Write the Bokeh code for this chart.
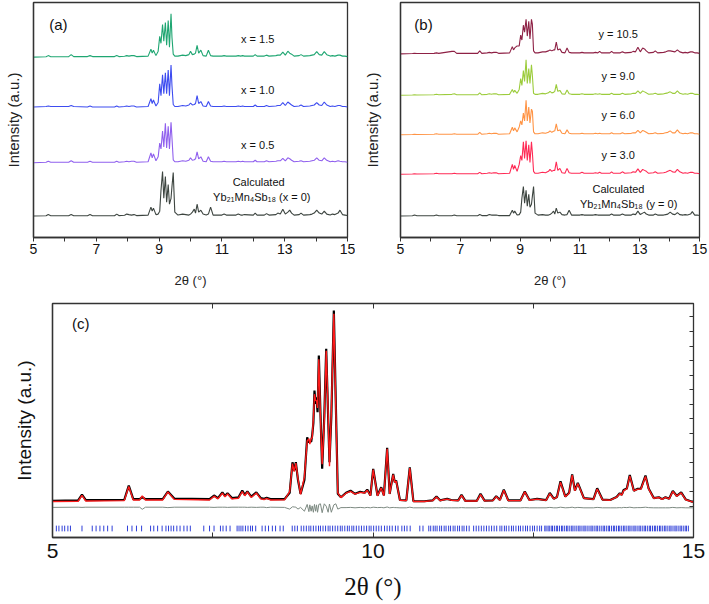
from bokeh.plotting import figure
from bokeh.models import Range1d, FixedTicker, LinearAxis, Label
from bokeh.layouts import column, row
from bokeh.embed import file_html
from bokeh.resources import INLINE

# ---------------- panels (a) and (b): shared 2-theta grid ----------------
tth_ab = [5.00, 5.40, 5.47, 5.55, 6.12, 6.20, 6.28, 6.72, 6.80, 6.88,
          7.58, 7.65, 7.72, 7.90, 7.97, 8.04, 8.12, 8.20, 8.28, 8.65,
          8.74, 8.78, 8.82, 8.90, 8.97, 9.02, 9.06, 9.11, 9.15, 9.20,
          9.24, 9.29, 9.33, 9.38, 9.41, 9.45, 9.50, 9.60, 9.75, 9.85,
          9.95, 10.00, 10.06, 10.12, 10.16, 10.21, 10.26, 10.33, 10.40, 10.50,
          10.57, 10.64, 10.72, 11.00, 11.07, 11.14, 11.45, 11.52, 11.60, 11.66,
          11.72, 12.00, 12.06, 12.12, 12.35, 12.42, 12.50, 12.72, 12.78, 12.86,
          12.94, 13.02, 13.10, 13.16, 13.22, 13.30, 13.46, 13.52, 13.60, 13.80,
          13.87, 13.94, 14.02, 14.10, 14.18, 14.26, 14.34, 14.45, 14.52, 14.60,
          14.70, 14.76, 14.84, 14.92, 15.00]

int_calc_a = [0, 0.3, 1.5, 0.3, 0.3, 1.5, 0.3, 0.3, 1.5, 0.3,
              0.3, 2, 0.5, 0.8, 2, 1.5, 1, 1.5, 0.5, 1,
              9, 5, 8, 1.5, 2, 5, 26, 45, 18, 40,
              14, 32, 12, 18, 30, 44, 4, 1, 2, 1.5,
              1, 2, 4, 7, 3, 12, 4, 6, 2, 1,
              2, 9, 1, 1, 2, 1, 1, 2, 1, 1,
              1.5, 1, 3, 1, 1, 2.5, 1, 1.5, 3, 2,
              7, 2, 4, 6, 3, 1, 1.5, 3, 1, 1.5,
              2, 3, 6, 3, 2, 5, 2, 1, 2, 1.5,
              3, 6, 1.5, 1, 0.5]
int_x05 = [0, 0.5, 1.5, 0.5, 0.5, 2, 0.5, 0.5, 1.5, 0.5,
           0.5, 1.5, 0.5, 1, 1.5, 1, 1.5, 1.5, 0.5, 1,
           10, 5, 9, 2, 6, 20, 14, 32, 16, 40,
           15, 37, 14, 41, 25, 3, 1, 1, 2, 1.5,
           2.5, 5, 2.5, 3, 4, 11, 4, 6, 1.5, 1,
           6, 1.5, 1, 1, 1.5, 1, 1, 1.5, 1, 1.5,
           1, 1, 2.5, 1, 1, 2, 1, 1.5, 2, 2,
           4.5, 2, 5, 4, 2.5, 1, 1.5, 2, 1, 1.5,
           2, 2.5, 5, 2.5, 2, 5, 2.5, 1, 1.5, 1,
           2, 1.5, 1, 1, 0.5]
int_x10 = [0.5, 1, 1.5, 1, 1, 2, 1, 0.5, 1.5, 0.5,
           0.5, 1.5, 0.5, 1, 1.5, 1, 1.5, 1.5, 0.5, 1,
           9, 4, 7.5, 1.5, 5, 24, 12, 33, 14, 35,
           14, 38, 12, 43, 22, 3, 1, 1, 2, 1.5,
           2.5, 4.5, 2.5, 3, 4, 12, 4, 6, 1.5, 1,
           6, 1.5, 1, 1, 1.5, 1, 1, 1.5, 1, 1.5,
           1, 1, 2.5, 1, 1, 2, 1, 1.5, 2, 2,
           5, 2, 5.5, 4, 2.5, 1, 1.5, 2.5, 1, 1.5,
           2, 2.5, 5, 2.5, 2, 5.5, 2.5, 1, 1.5, 1,
           2, 2, 1, 1, 0.5]
int_x15 = [0, 0.3, 1.5, 0.3, 0.5, 2.5, 0.5, 0.5, 1.5, 0.5,
           0.5, 1.5, 0.5, 0.8, 1.5, 1, 1.5, 1.5, 0.5, 1,
           8, 4, 7, 1.5, 6, 21, 14, 33, 16, 35,
           12, 37, 10, 44, 20, 3, 1, 1, 2, 1.5,
           2.5, 6, 2.5, 3, 4, 12, 4, 7, 1.5, 1,
           7, 1.5, 1, 1, 1.5, 1, 1, 1.5, 1, 1.5,
           1, 1, 2.5, 1, 1, 2, 1, 1.5, 2, 2,
           5, 2, 6, 4, 3, 1, 1.5, 2.5, 1, 1.5,
           2, 2.5, 5.5, 2.5, 2, 5.5, 2.5, 1, 1.5, 1,
           2, 2, 1, 1, 0.5]

int_calc_b = [0, 0.3, 1, 0.3, 0.3, 1, 0.3, 0.3, 1, 0.3,
              0.3, 1.5, 0.5, 0.5, 1.5, 1, 1, 1, 0.5, 0.5,
              6, 3, 5, 1, 1.5, 4, 18, 30, 13, 26,
              10, 22, 9, 12, 20, 30, 3, 1, 1.5, 1,
              1, 1.5, 3, 5, 2, 8, 3, 4, 1.5, 1,
              1.5, 6, 1, 1, 1.5, 1, 1, 1.5, 1, 1,
              1, 1, 2, 1, 1, 2, 1, 1, 2, 1.5,
              5, 1.5, 3, 4, 2, 1, 1, 2, 1, 1,
              1.5, 2, 4, 2, 1.5, 3.5, 1.5, 1, 1.5, 1,
              2, 4.5, 1, 1, 0.5]
int_y30 = [0, 0.3, 0.5, 0.3, 0.5, 1, 0.5, 0.5, 1, 0.5,
           0.5, 2, 0.5, 1, 1.5, 1, 1.5, 1.5, 0.5, 1,
           10, 5, 9, 3, 10, 19, 14, 33, 16, 34,
           14, 30, 12, 33, 22, 3, 1, 1, 2, 1.5,
           3, 5, 3, 4, 4, 12.7, 4, 6, 1.5, 1,
           6, 1.5, 1, 1, 2, 1, 1, 1.5, 1, 2,
           1, 1, 2.5, 1, 1, 2.5, 1, 1.5, 2.5, 2,
           5.5, 2, 5, 4, 3, 1, 1.5, 2.5, 1, 1.5,
           2, 3, 4, 2.5, 2, 5, 2.5, 1, 1.5, 1,
           2, 2, 1, 1, 0.5]
int_y60 = [0, 0.3, 0.5, 0.3, 0.5, 1, 0.5, 0.5, 1, 0.5,
           0.5, 2.5, 0.5, 1, 1.5, 1, 1.5, 1.5, 0.5, 1,
           7.7, 4, 7, 3, 8, 14, 10, 22, 14, 35,
           14, 28, 12, 26, 24, 3, 1, 1, 2, 1.5,
           2.5, 4, 2.5, 3.5, 4, 11, 4, 5, 1.5, 1,
           5, 1.5, 1, 1, 1.5, 1, 1, 1.5, 1, 1.5,
           1, 1, 2, 1, 1, 2, 1, 1.5, 2, 2,
           4.5, 2, 4.5, 3.5, 2.5, 1, 1.5, 2, 1, 1.5,
           2, 2.5, 4, 2, 2, 5, 2, 1, 1.5, 1,
           2, 2, 1, 1, 0.5]
int_y90 = [0, 0.3, 0.5, 0.3, 0.5, 1, 0.5, 1, 1.5, 0.5,
           0.5, 2.5, 0.5, 1, 1.5, 1, 1.5, 1.5, 0.5, 1,
           6, 3, 5, 2, 6, 17, 10, 25, 14, 36,
           12, 27, 12, 31, 20, 2, 1, 1, 2, 1.5,
           2.5, 4, 2.5, 3, 4, 11, 4, 5, 1.5, 1,
           5.3, 1.5, 1, 1, 1.5, 1, 1, 1.5, 1, 1.5,
           1, 1, 2, 1, 1, 2, 1, 1.5, 2, 2,
           4.5, 2, 4.5, 3.5, 2.5, 1, 1.5, 2, 1, 1.5,
           2, 2.5, 3.5, 2, 2, 4.5, 2, 1, 1.5, 1,
           2, 2, 1, 1, 0.5]
int_y105 = [0, 0.3, 0.5, 0.3, 0.5, 1, 0.5, 2.5, 2.5, 0.5,
            0.5, 3, 0.5, 1, 1.5, 1, 1.5, 1.5, 0.5, 1,
            7.3, 4, 6, 8, 8, 19, 14, 29, 22, 35,
            18, 33, 15, 35, 30, 3, 1, 1, 2, 2,
            3, 4, 3, 4, 4, 12, 4, 5, 1.5, 1,
            6, 1.5, 1, 1, 1.5, 1, 1, 1.5, 1, 2.5,
            1, 1, 2.5, 1, 1, 2, 1, 1.5, 2.5, 2,
            6.7, 2, 6, 5, 3, 1, 1.5, 3, 1, 1.5,
            2, 3, 3, 2.5, 2, 4, 2, 1, 1.5, 1,
            2, 2, 1, 1, 0.5]

series_a = [int_calc_a, int_x05, int_x10, int_x15]
offsets_a = [21.7, 75.7, 131.7, 182.7]
labels_a = ["x = 0.5", "x = 1.0", "x = 1.5"]
series_b = [int_calc_b, int_y30, int_y60, int_y90, int_y105]
offsets_b = [21.7, 64, 104, 144, 186]
labels_b = ["y = 3.0", "y = 6.0", "y = 9.0", "y = 10.5"]

# ---------------- panel (c): Rietveld refinement ----------------
tth_c = [5.00, 5.40, 5.46, 5.52, 6.12, 6.19, 6.26, 6.36, 6.40, 6.45,
         6.72, 6.80, 6.90, 7.45, 7.52, 7.58, 7.65, 7.69, 7.73, 7.80,
         7.90, 7.96, 8.00, 8.04, 8.10, 8.18, 8.25, 8.30, 8.34, 8.40,
         8.62, 8.70, 8.744, 8.77, 8.796, 8.83, 8.87, 8.93, 8.973, 9.00,
         9.014, 9.035, 9.051, 9.07, 9.087, 9.105, 9.119, 9.135, 9.155, 9.18,
         9.207, 9.24, 9.27, 9.30, 9.321, 9.35, 9.389, 9.42, 9.451, 9.50,
         9.58, 9.65, 9.72, 9.80, 9.87, 9.91, 9.96, 10.003, 10.07, 10.128,
         10.17, 10.221, 10.26, 10.315, 10.34, 10.361, 10.42, 10.52, 10.574, 10.63,
         10.80, 10.93, 10.99, 11.05, 11.10, 11.157, 11.22, 11.33, 11.381, 11.44,
         11.62, 11.677, 11.74, 11.87, 11.922, 11.98, 12.041, 12.11, 12.30, 12.368,
         12.44, 12.56, 12.70, 12.758, 12.82, 12.87, 12.925, 13.00, 13.06, 13.107,
         13.15, 13.195, 13.29, 13.44, 13.497, 13.58, 13.70, 13.80, 13.85, 13.88,
         13.91, 13.96, 14.006, 14.07, 14.122, 14.18, 14.251, 14.30, 14.38, 14.459,
         14.51, 14.563, 14.62, 14.677, 14.74, 14.808, 14.88, 14.98, 15.00]
obs_c = [102, 104, 131, 105, 107, 174, 110, 110, 119, 110,
         110, 146, 113, 110, 127, 115, 142, 125, 138, 115,
         118, 150, 130, 147, 122, 142, 115, 112, 116, 110,
         110, 140, 284, 245, 284, 200, 135, 200, 402, 378,
         385, 380, 410, 470, 622, 560, 590, 520, 787, 520,
         253, 500, 819, 500, 284, 500, 1000, 560, 135, 119,
         140, 150, 135, 145, 140, 155, 127, 253, 127, 166,
         127, 352, 135, 229, 190, 198, 106, 104, 260, 100,
         100, 104, 122, 104, 108, 111, 106, 104, 130, 102,
         102, 135, 103, 104, 124, 106, 155, 104, 104, 146,
         106, 111, 105, 139, 112, 120, 194, 122, 140, 227,
         150, 187, 115, 110, 161, 108, 106, 120, 138, 130,
         153, 160, 224, 150, 158, 160, 221, 160, 115, 119,
         110, 119, 112, 149, 125, 142, 108, 98, 98]
calc_c = [99, 100, 128, 101, 103, 170, 106, 106, 125, 106,
          106, 144, 109, 106, 124, 111, 138, 121, 135, 111,
          114, 146, 126, 144, 118, 139, 111, 108, 114, 106,
          107, 145, 278, 240, 280, 205, 132, 215, 385, 395,
          370, 395, 400, 490, 605, 575, 575, 540, 770, 500,
          275, 480, 810, 520, 265, 520, 985, 540, 140, 117,
          138, 147, 134, 142, 139, 152, 126, 249, 125, 163,
          126, 347, 134, 226, 188, 196, 105, 103, 256, 99,
          99, 103, 120, 103, 107, 110, 105, 103, 128, 101,
          101, 132, 102, 103, 122, 105, 152, 103, 103, 144,
          105, 110, 104, 136, 111, 119, 190, 121, 138, 223,
          149, 184, 114, 109, 158, 107, 105, 119, 136, 129,
          150, 158, 220, 149, 156, 158, 217, 158, 114, 118,
          109, 118, 111, 146, 124, 140, 107, 97, 97]
diff_offset = 68
refl_c = [5.06, 5.10, 5.15, 5.19, 5.24, 5.28, 5.46, 5.62, 5.68, 5.74, 5.80, 5.86, 5.93,
          6.17, 6.24, 6.31, 6.39, 6.53, 6.58, 6.64, 6.71, 6.77, 6.81, 6.85, 6.89, 6.94,
          6.99, 7.05, 7.10, 7.15, 7.36, 7.45, 7.52, 7.62, 7.66, 7.71, 7.77, 7.88, 7.91,
          7.94, 7.97, 8.01, 8.05, 8.09, 8.12, 8.17, 8.27, 8.32, 8.37, 8.43, 8.48, 8.55,
          8.60, 8.74, 8.78, 8.82, 8.88, 8.92, 8.96, 9.00, 9.03, 9.07, 9.11, 9.15, 9.18,
          9.22, 9.26, 9.30, 9.33, 9.37, 9.41, 9.45, 9.49, 9.52, 9.56, 9.60, 9.63, 9.67,
          9.70, 9.74, 9.78, 9.82, 9.86, 9.90, 9.94, 9.97, 10.01, 10.05, 10.09, 10.13,
          10.18, 10.22, 10.26, 10.30, 10.35, 10.39, 10.45, 10.49, 10.53, 10.58, 10.73,
          10.78, 10.87, 10.90, 10.94, 10.97, 11.00, 11.04, 11.07, 11.11, 11.14, 11.18,
          11.21, 11.25, 11.28, 11.32, 11.35, 11.39, 11.42, 11.46, 11.50, 11.57, 11.61,
          11.65, 11.69, 11.73, 11.77, 11.81, 11.85, 11.89, 11.93, 11.98, 12.01, 12.05,
          12.08, 12.12, 12.16, 12.19, 12.23, 12.27, 12.30, 12.34, 12.38, 12.41, 12.45,
          12.49, 12.52, 12.56, 12.60, 12.63, 12.68, 12.70, 12.73, 12.75, 12.78, 12.80,
          12.83, 12.86, 12.88, 12.91, 12.94, 12.96, 12.99, 13.02, 13.04, 13.07, 13.10,
          13.12, 13.15, 13.18, 13.21, 13.23, 13.26, 13.29, 13.31, 13.34, 13.37, 13.40,
          13.42, 13.45, 13.48, 13.50, 13.53, 13.56, 13.59, 13.61, 13.64, 13.67, 13.69,
          13.72, 13.75, 13.77, 13.80, 13.83, 13.85, 13.88, 13.91, 13.93, 13.96, 13.99,
          14.01, 14.04, 14.07, 14.09, 14.12, 14.15, 14.17, 14.20, 14.23, 14.25, 14.28,
          14.31, 14.33, 14.36, 14.39, 14.41, 14.44, 14.47, 14.49, 14.52, 14.55, 14.57,
          14.60, 14.63, 14.65, 14.68, 14.71, 14.73, 14.76, 14.79, 14.81, 14.84, 14.87,
          14.89, 14.92]

for s in series_a + series_b:
    assert len(s) == len(tth_ab), len(s)
assert len(obs_c) == len(tth_c) == len(calc_c), (len(obs_c), len(tth_c), len(calc_c))

FONT = "Liberation Sans"
AXC = "#333333"


def base_panel(width, left, right, tag, tag_x):
    p = figure(width=width, height=290, x_range=Range1d(5, 15), y_range=Range1d(0, 238),
               output_backend="svg", toolbar_location=None,
               min_border_left=left, min_border_right=right,
               min_border_top=2, min_border_bottom=50)
    p.grid.visible = False
    p.outline_line_color = AXC
    p.outline_line_width = 1.3
    p.background_fill_color = "white"
    p.border_fill_color = "white"
    xa = p.xaxis[0]
    xa.ticker = FixedTicker(ticks=[5, 7, 9, 11, 13, 15], minor_ticks=[6, 8, 10, 12, 14])
    xa.major_tick_out = 4
    xa.major_tick_in = 0
    xa.minor_tick_out = 4
    xa.minor_tick_in = 0
    xa.major_tick_line_color = AXC
    xa.minor_tick_line_color = AXC
    xa.axis_line_color = AXC
    xa.axis_line_width = 1.3
    xa.major_label_text_font = FONT
    xa.major_label_text_font_size = "14px"
    xa.major_label_text_color = "#111111"
    xa.major_label_standoff = 2
    xa.axis_label = "2θ (°)"
    xa.axis_label_text_font = FONT
    xa.axis_label_text_font_style = "normal"
    xa.axis_label_text_font_size = "13px"
    xa.axis_label_text_color = "#222222"
    xa.axis_label_standoff = 16
    ya = p.yaxis[0]
    ya.ticker = FixedTicker(ticks=[])
    ya.axis_line_color = AXC
    ya.axis_line_width = 1.3
    ya.axis_label = "Intensity (a.u.)"
    ya.axis_label_text_font = FONT
    ya.axis_label_text_font_style = "normal"
    ya.axis_label_text_font_size = "15px"
    ya.axis_label_text_color = "#222222"
    ya.axis_label_standoff = 12 if left < 40 else 20
    p.add_layout(Label(x=tag_x, y=216, text=tag, text_font=FONT, text_font_size="15px",
                       text_align="center", text_baseline="middle", text_color="#111111"))
    return p


def add_text(p, x, y, txt, size="11px"):
    p.add_layout(Label(x=x, y=y, text=txt, text_font=FONT, text_font_size=size,
                       text_align="center", text_baseline="middle", text_color="#111111"))


# ---- panel (a)
pa = base_panel(355, 33, 8, "(a)", 5.79)
colors_a = ["#3d4540", "#9060ee", "#3d4cf0", "#1fa672"]
for ys, off, col in zip(series_a, offsets_a, colors_a):
    pa.line(tth_ab, [v + off for v in ys], line_color=col, line_width=1.1)
for lab, off in zip(labels_a, offsets_a[1:]):
    add_text(pa, 12.14, off + 18, lab)
add_text(pa, 12.17, 56, "Calculated")
add_text(pa, 12.27, 41, "Yb₂₁Mn₄Sb₁₈ (x = 0)")

# ---- panel (b)
pb = base_panel(354, 45, 10, "(b)", 5.77)
colors_b = ["#3d4540", "#ff2a55", "#ff9445", "#9ccc3c", "#8e2145"]
for ys, off, col in zip(series_b, offsets_b, colors_b):
    pb.line(tth_ab, [v + off for v in ys], line_color=col, line_width=1.1)
for lab, off in zip(labels_b, offsets_b[1:]):
    add_text(pb, 12.28, off + 20, lab)
add_text(pb, 12.29, 49, "Calculated")
add_text(pb, 12.63, 34, "Yb₂₁Mn₄Sb₁₈ (y = 0)")

# ---- panel (c)
pc = figure(width=709, height=314, x_range=Range1d(5, 15), y_range=Range1d(-71, 1033),
            output_backend="svg", toolbar_location=None,
            min_border_left=52, min_border_right=16, min_border_top=13, min_border_bottom=67)
pc.grid.visible = False
pc.outline_line_color = AXC
pc.outline_line_width = 1.3
xa = pc.xaxis[0]
xa.ticker = FixedTicker(ticks=[5, 10, 15], minor_ticks=[7.5, 12.5])
xa.major_tick_in = 5
xa.major_tick_out = 0
xa.minor_tick_in = 5
xa.minor_tick_out = 0
xa.major_tick_line_color = AXC
xa.minor_tick_line_color = AXC
xa.axis_line_color = AXC
xa.axis_line_width = 1.3
xa.major_label_text_font = FONT
xa.major_label_text_font_size = "21px"
xa.major_label_text_color = "#111111"
xa.major_label_standoff = 6
xa.axis_label = "2θ (°)"
xa.axis_label_text_font = "Liberation Serif"
xa.axis_label_text_font_style = "normal"
xa.axis_label_text_font_size = "25px"
xa.axis_label_text_color = "#111111"
xa.axis_label_standoff = 12
ya = pc.yaxis[0]
ya.ticker = FixedTicker(ticks=[])
ya.axis_line_color = AXC
ya.axis_line_width = 1.3
ya.axis_label = "Intensity (a.u.)"
ya.axis_label_text_font = FONT
ya.axis_label_text_font_style = "normal"
ya.axis_label_text_font_size = "19px"
ya.axis_label_text_color = "#111111"
ya.axis_label_standoff = 18

top = LinearAxis(ticker=FixedTicker(ticks=[], minor_ticks=[7.5, 10, 12.5]),
                 minor_tick_in=5, minor_tick_out=0,
                 axis_line_color=AXC, minor_tick_line_color=AXC)
pc.add_layout(top, "above")
right = LinearAxis(ticker=FixedTicker(ticks=[],
                                      minor_ticks=[75, 144, 213, 281, 350, 420, 489, 558,
                                                   627, 695, 764, 832, 901, 970]),
                   minor_tick_in=4, minor_tick_out=0,
                   axis_line_color=AXC, minor_tick_line_color=AXC)
pc.add_layout(right, "right")

pc.line(tth_c, [o - c + diff_offset for o, c in zip(obs_c, calc_c)],
        line_color="#7d8a82", line_width=1.0)
pc.line(tth_c, obs_c, line_color="#000000", line_width=2.2)
pc.line(tth_c, calc_c, line_color="#ff1a1a", line_width=1.4)
pc.segment(x0=refl_c, y0=[-42] * len(refl_c), x1=refl_c, y1=[-15] * len(refl_c),
           line_color="#2f3fd8", line_width=1)
pc.add_layout(Label(x=5.44, y=939, text="(c)", text_font=FONT, text_font_size="15px",
                    text_align="center", text_baseline="middle", text_color="#111111"))

layout = column(row(pa, pb, spacing=0), pc, spacing=0)
open("out.html", "w").write(file_html(layout, INLINE))
